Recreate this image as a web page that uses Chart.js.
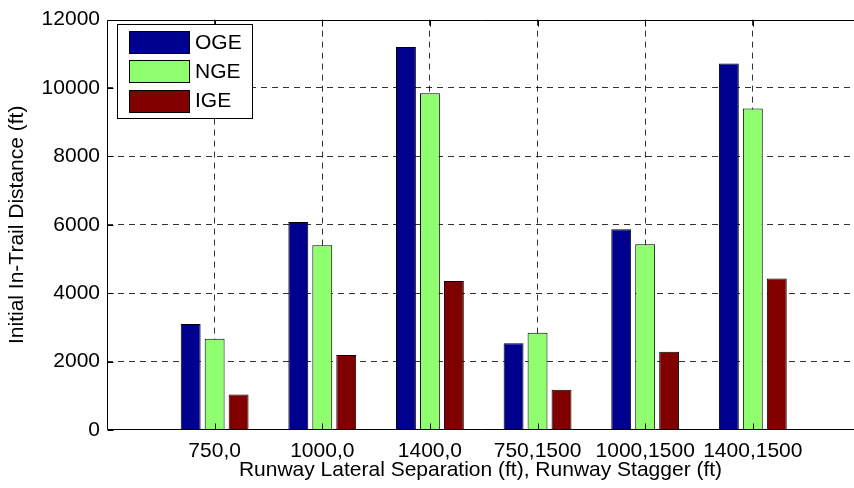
<!DOCTYPE html>
<html>
<head>
<meta charset="utf-8">
<script src="https://cdn.jsdelivr.net/npm/chart.js@4/dist/chart.umd.min.js"></script>
<style>
  html, body { margin: 0; padding: 0; background: #fff; }
  canvas { display: block; }
</style>
</head>
<body>
<canvas id="c" width="854" height="488"></canvas>
<script>
// Runway configurations (lateral separation, stagger) and in-trail distances (ft)
const categories = ['750,0', '1000,0', '1400,0', '750,1500', '1000,1500', '1400,1500'];
const ogeValues = [3100, 6080, 11200, 2540, 5870, 10720];
const ngeValues = [2670, 5400, 9850, 2840, 5430, 9400];
const igeValues = [1040, 2190, 4360, 1180, 2290, 4430];
const yTickValues = [0, 2000, 4000, 6000, 8000, 10000, 12000];
const seriesNames = ['OGE', 'NGE', 'IGE'];
const seriesColors = ['#00008F', '#8FFF70', '#800000'];

const FONT = 'Liberation Sans, Arial, Helvetica, sans-serif';
const FONT_SIZE = 21;
const Y_MAX = 12000;
const X_MAX = 6.94;

function points(values) {
  return values.map((v, i) => ({ x: i + 1, y: v }));
}

// Axis frame, inward tick marks and boxed legend in the upper left
const framePlugin = {
  id: 'frame',
  afterDatasetsDraw(chart) {
    const { ctx, chartArea: a, scales } = chart;
    const L = Math.round(a.left) + 0.5;
    const T = Math.round(a.top) + 0.5;
    const B = Math.round(a.bottom) - 0.5;
    ctx.save();
    ctx.strokeStyle = '#000';
    ctx.lineWidth = 1;
    ctx.setLineDash([]);
    ctx.beginPath();
    ctx.moveTo(L, T); ctx.lineTo(a.right + 2, T);
    ctx.moveTo(L, T); ctx.lineTo(L, B);
    ctx.moveTo(L, B); ctx.lineTo(a.right + 2, B);
    // tick marks pointing into the plot
    scales.x.ticks.forEach(t => {
      const x = Math.round(scales.x.getPixelForValue(t.value)) + 0.5;
      ctx.moveTo(x, B); ctx.lineTo(x, B - 6);
      ctx.moveTo(x, T); ctx.lineTo(x, T + 6);
    });
    scales.y.ticks.forEach(t => {
      const y = Math.round(scales.y.getPixelForValue(t.value)) + 0.5;
      ctx.moveTo(L, y); ctx.lineTo(L + 6, y);
    });
    ctx.stroke();

    // legend box
    const bx = 117.5, by = 24.5, bw = 135, bh = 94;
    ctx.fillStyle = '#fff';
    ctx.fillRect(bx, by, bw, bh);
    ctx.strokeRect(bx, by, bw, bh);
    ctx.font = FONT_SIZE + 'px ' + FONT;
    ctx.textBaseline = 'middle';
    ctx.textAlign = 'left';
    chart.data.datasets.forEach((ds, i) => {
      const cy = 42 + i * 29.3;
      const sy = Math.round(cy - 11) + 0.5;
      ctx.fillStyle = ds.backgroundColor;
      ctx.fillRect(129.5, sy, 60, 22);
      ctx.strokeStyle = '#000';
      ctx.strokeRect(129.5, sy, 60, 22);
      ctx.fillStyle = '#000';
      ctx.fillText(ds.label, 195, cy + 1);
    });
    ctx.restore();
  }
};

new Chart(document.getElementById('c'), {
  type: 'bar',
  data: {
    datasets: [
      { label: seriesNames[0], data: points(ogeValues), backgroundColor: seriesColors[0] },
      { label: seriesNames[1], data: points(ngeValues), backgroundColor: seriesColors[1] },
      { label: seriesNames[2], data: points(igeValues), backgroundColor: seriesColors[2] }
    ]
  },
  options: {
    responsive: false,
    animation: false,
    devicePixelRatio: 1,
    layout: { padding: { top: 15, right: 0, bottom: 0, left: 0 } },
    datasets: {
      bar: {
        borderColor: '#000',
        borderWidth: 1,
        categoryPercentage: 0.668,
        barPercentage: 0.83
      }
    },
    plugins: {
      legend: { display: false },
      tooltip: { enabled: false }
    },
    scales: {
      x: {
        type: 'linear',
        min: 0,
        max: X_MAX,
        offset: false,
        afterBuildTicks: s => { s.ticks = categories.map((c, i) => ({ value: i + 1 })); },
        afterFit: s => { s.height = 58; },
        grid: {
          offset: false,
          color: 'rgba(0,0,0,0.8)',
          lineWidth: 1,
          drawTicks: false
        },
        border: { display: false, dash: [6, 5] },
        ticks: {
          callback: v => categories[v - 1],
          font: { family: FONT, size: FONT_SIZE },
          color: '#000',
          padding: 9,
          maxRotation: 0,
          autoSkip: false
        },
        title: {
          display: true,
          text: 'Runway Lateral Separation (ft), Runway Stagger (ft)',
          font: { family: FONT, size: FONT_SIZE },
          color: '#000',
          padding: { top: 0, bottom: 5 }
        }
      },
      y: {
        min: 0,
        max: Y_MAX,
        afterBuildTicks: s => { s.ticks = yTickValues.map(v => ({ value: v })); },
        afterFit: s => { s.width = 107; },
        grid: {
          color: c => (c.tick && (c.tick.value === 0 || c.tick.value === Y_MAX)) ? 'rgba(0,0,0,0)' : 'rgba(0,0,0,0.8)',
          lineWidth: 1,
          drawTicks: false
        },
        border: { display: false, dash: [6, 5] },
        ticks: {
          callback: v => String(v),
          font: { family: FONT, size: FONT_SIZE },
          color: '#000',
          padding: 7
        },
        title: {
          display: true,
          text: 'Initial In-Trail Distance (ft)',
          font: { family: FONT, size: FONT_SIZE },
          color: '#000',
          padding: { top: 5, bottom: 0 }
        }
      }
    }
  },
  plugins: [framePlugin]
});
</script>
</body>
</html>
